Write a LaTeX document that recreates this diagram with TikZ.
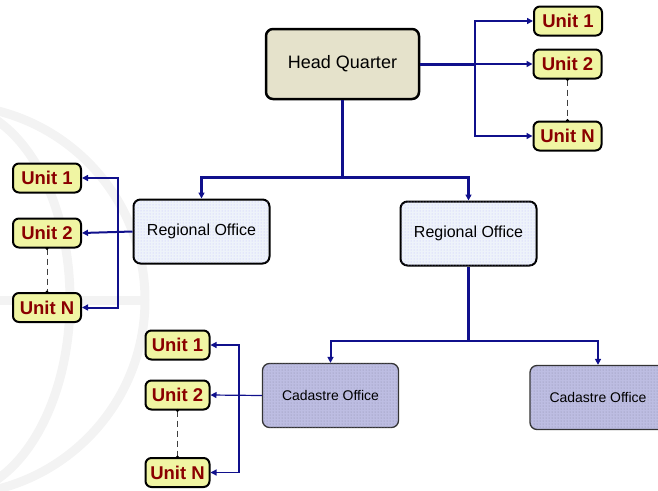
\documentclass[tikz,border=0pt]{standalone}
\usepackage{fontspec}
\setmainfont{Liberation Sans}
\usepackage{xcolor}
\usepackage{tikz}
\usetikzlibrary{positioning,calc,arrows.meta,patterns}

\definecolor{linkblue}{HTML}{10108C}
\definecolor{unitred}{HTML}{8A0000}
\definecolor{unitfill}{HTML}{F0F5A3}
\definecolor{hqfill}{HTML}{E5E2CB}
\definecolor{rofill}{HTML}{EEF3FA}
\definecolor{cofill}{HTML}{BDBDE2}
\definecolor{globegray}{HTML}{F3F3F3}

\begin{document}
\begin{tikzpicture}[x=1pt,y=-1pt,
    hqbox/.style={draw=black,line width=2.5pt,rounded corners=7pt,fill=hqfill,
        minimum width=153pt,minimum height=70pt,font=\fontsize{18}{20}\selectfont},
    robox/.style={draw=black,line width=2pt,rounded corners=7pt,fill=rofill,
        postaction={pattern=dots,pattern color=blue!25},
        minimum width=136pt,minimum height=64pt,font=\fontsize{16}{18}\selectfont},
    cobox/.style={draw=black!80,line width=1.3pt,rounded corners=7pt,fill=cofill,
        postaction={pattern=dots,pattern color=blue!25!black!45},
        minimum width=136pt,minimum height=64pt,font=\fontsize{14}{16}\selectfont},
    unitbox/.style={draw=black,line width=2pt,rounded corners=6pt,fill=unitfill,
        text=unitred,minimum width=68pt,minimum height=29pt,inner sep=1pt,
        font=\bfseries\fontsize{18.5}{20}\selectfont},
    link/.style={draw=linkblue,line width=#1},
    arr/.style={link=#1,-{Triangle[length=6pt,width=6pt]}},
    unitgap/.style={draw=black!75,dash pattern=on 6pt off 4pt,line width=0.9pt},
    globe/.style={draw=globegray,line width=9pt}
]
\useasboundingbox (0,0) rectangle (658,490);

% faint globe in the background
\begin{scope}
  \clip (0,0) rectangle (658,490);
  \draw[globe] (-50,300) circle (195);
  \draw[globe] (-50,300) ellipse (120 and 195);
  \draw[globe] (-245,300) -- (145,300);
  \draw[globe] (-50,105) -- (-50,495);
\end{scope}

% offices
\node[hqbox] (hq) at (342.5,64) {Head Quarter};
\node[robox] (roleft) at (201.5,231.5) {Regional Office};
\node[robox] (roright) at (468.5,233.5) {Regional Office};
\node[cobox] (coleft) at (330.5,395.5) {Cadastre Office};
\node[cobox] (coright) at (598,397.5) {Cadastre Office};

% units of head quarter
\node[unitbox] (hqunita) at (568,21) {Unit 1};
\node[unitbox] (hqunitb) at (567.5,64) {Unit 2};
\node[unitbox] (hqunitn) at (567.5,136) {Unit N};

% units of regional office
\node[unitbox] (rounita) at (47,178) {Unit 1};
\node[unitbox] (rounitb) at (47,233) {Unit 2};
\node[unitbox] (rounitn) at (47,307.5) {Unit N};

% units of cadastre office
\node[unitbox,minimum width=64pt] (counita) at (177.5,345) {Unit 1};
\node[unitbox,minimum width=64pt] (counitb) at (177.5,395) {Unit 2};
\node[unitbox,minimum width=64pt] (counitn) at (177.5,472.5) {Unit N};

% joints
\coordinate (hqside) at (475,64);
\coordinate (hqdown) at (342.5,177);
\coordinate (roside) at (118,233);
\coordinate (rodown) at (468.5,341);
\coordinate (coside) at (239,395);

% head quarter links
\draw[link=3pt] (hq.east) -- (hqside);
\draw[arr=2pt] (hqside) -- (hqunitb.west);
\draw[arr=2pt] (hqside) |- (hqunita.west);
\draw[arr=2pt] (hqside) |- (hqunitn.west);
\draw[link=3pt] (hq.south) -- (hqdown);
\draw[arr=3pt] (hqdown) -| (roleft.north);
\draw[arr=3pt] (hqdown) -| (roright.north);

% regional office links
\draw[arr=2pt] (roleft.west) -- (rounitb.east);
\draw[arr=2pt] (roside) |- (rounita.east);
\draw[arr=2pt] (roside) |- (rounitn.east);
\draw[link=2.5pt] (roright.south) -- (rodown);
\draw[arr=2pt] (rodown) -| (coleft.north);
\draw[arr=2pt] (rodown) -| (coright.north);

% cadastre office links
\draw[arr=1.2pt] (coleft.west) -- (counitb.east);
\draw[arr=1.2pt] (coside) |- (counita.east);
\draw[arr=1.2pt] (coside) |- (counitn.east);

% gaps between units
\foreach \top/\bot in {hqunitb/hqunitn,rounitb/rounitn,counitb/counitn}{
  \draw[unitgap] (\top.south) -- (\bot.north);
  \fill (\top.south) circle (1.6pt) (\bot.north) circle (1.6pt);
}
\end{tikzpicture}
\end{document}
